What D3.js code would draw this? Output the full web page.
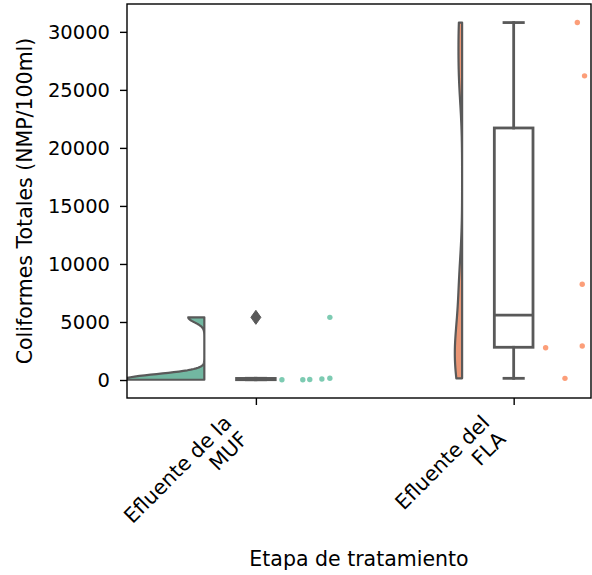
<!DOCTYPE html>
<html><head><meta charset="utf-8">
<script src="https://cdn.jsdelivr.net/npm/d3@7"></script>
<style>body{margin:0;background:#fff} text{font-family:"DejaVu Sans",sans-serif;fill:#000}</style>
</head><body><svg id="c" width="592" height="575"></svg>
<script>
// ---- data ----
const categories = [["Efluente de la", "MUF"], ["Efluente del", "FLA"]];
const mufValues = [23, 23, 43, 93, 150, 5400];
const flaValues = [145, 2784, 2931, 8250, 26207, 30800];
const mufJitter = [-0.099, -0.018, 0.009, 0.056, 0.087, 0.087];
const flaJitter = [-0.001, -0.076, 0.066, 0.066, 0.075, 0.047];
const yTicks = [0, 5000, 10000, 15000, 20000, 25000, 30000];
const palette = ["#66c2a5", "#fc8d62"];
const violinPalette = ["#72b7a1", "#e99675"];
const xLabel = "Etapa de tratamiento";
const yLabel = "Coliformes Totales (NMP/100ml)";

const groups = [
  {values: mufValues, jitter: mufJitter},
  {values: flaValues, jitter: flaJitter}
];

// ---- layout ----
const L = 127, R = 591, T = 4, B = 398;
const gray = "#595959";
const tickFont = 19.5, xTickFont = 20.5, labelFont = 20.5;
const svg = d3.select("#c");
const x = d3.scaleLinear().domain([-0.5, 1.3]).range([L, R]);
const y = d3.scaleLinear().domain([-1550, 32400]).range([B, T]);

svg.append("defs").append("clipPath").attr("id", "clip")
  .append("rect").attr("x", L).attr("y", T).attr("width", R - L).attr("height", B - T);
const plot = svg.append("g").attr("clip-path", "url(#clip)");

// KDE (gaussian, bw factor 0.2 * sample std), cut = 0
function kde(vals) {
  const sd = d3.deviation(vals);
  const bw = 0.2 * sd;
  const lo = d3.min(vals), hi = d3.max(vals);
  const n = 100;
  const pts = [];
  for (let i = 0; i < n; i++) {
    const v = lo + (hi - lo) * i / (n - 1);
    let s = 0;
    for (const d of vals) s += Math.exp(-0.5 * ((v - d) / bw) ** 2);
    pts.push([v, s / (vals.length * bw * Math.sqrt(2 * Math.PI))]);
  }
  return pts;
}
const dens = groups.map(g => kde(g.values));
const maxD = d3.max(dens, d => d3.max(d, p => p[1]));
const dwidth = 0.31;
const offset = 0.2;

groups.forEach((g, i) => {
  const base = i - offset;
  const pts = dens[i];
  const poly = pts.map(p => [x(base - p[1] / maxD * dwidth), y(p[0])]);
  const path = [[x(base), y(pts[0][0])], ...poly, [x(base), y(pts[pts.length - 1][0])]];
  plot.append("path")
    .attr("d", d3.line()(path) + "Z")
    .attr("fill", violinPalette[i])
    .attr("stroke", gray).attr("stroke-width", 2.2).attr("stroke-linejoin", "round");
});

// boxplots
const bw = 0.15;
groups.forEach((g, i) => {
  const s = g.values.slice().sort(d3.ascending);
  const q1 = d3.quantile(s, 0.25), med = d3.quantile(s, 0.5), q3 = d3.quantile(s, 0.75);
  const iqr = q3 - q1;
  const lowW = d3.min(s.filter(v => v >= q1 - 1.5 * iqr));
  const hiW = d3.max(s.filter(v => v <= q3 + 1.5 * iqr));
  const outs = s.filter(v => v < lowW || v > hiW);
  const gB = plot.append("g").attr("stroke", gray).attr("stroke-width", 2.8).attr("fill", "none");
  gB.append("line").attr("x1", x(i)).attr("x2", x(i)).attr("y1", y(q3)).attr("y2", y(hiW)).attr("stroke-linecap", "square");
  gB.append("line").attr("x1", x(i)).attr("x2", x(i)).attr("y1", y(q1)).attr("y2", y(lowW)).attr("stroke-linecap", "square");
  gB.append("line").attr("x1", x(i - bw / 4)).attr("x2", x(i + bw / 4)).attr("y1", y(hiW)).attr("y2", y(hiW)).attr("stroke-linecap", "square");
  gB.append("line").attr("x1", x(i - bw / 4)).attr("x2", x(i + bw / 4)).attr("y1", y(lowW)).attr("y2", y(lowW)).attr("stroke-linecap", "square");
  gB.append("rect").attr("x", x(i - bw / 2)).attr("width", x(i + bw / 2) - x(i - bw / 2))
    .attr("y", y(q3)).attr("height", Math.max(0.01, y(q1) - y(q3)));
  gB.append("line").attr("x1", x(i - bw / 2)).attr("x2", x(i + bw / 2)).attr("y1", y(med)).attr("y2", y(med));
  outs.forEach(v => {
    const cx = x(i), cy = y(v);
    plot.append("path").attr("d", `M${cx},${cy - 7}L${cx + 5},${cy}L${cx},${cy + 7}L${cx - 5},${cy}Z`)
      .attr("fill", gray).attr("stroke", gray).attr("stroke-width", 1);
  });
});

// strip (rain)
groups.forEach((g, i) => {
  plot.selectAll(null).data(g.values.map((v, k) => [v, g.jitter[k]])).enter().append("circle")
    .attr("cx", d => x(i + offset + d[1])).attr("cy", d => y(d[0])).attr("r", 2.7)
    .attr("fill", palette[i]).attr("fill-opacity", 0.85);
});

// axes
const yAxis = svg.append("g").attr("transform", `translate(${L},0)`)
  .call(d3.axisLeft(y).tickValues(yTicks).tickFormat(d3.format("d")).tickSize(7).tickPadding(10));
yAxis.select(".domain").remove();
yAxis.selectAll("line").attr("stroke", "#000").attr("stroke-width", 1.4);
yAxis.selectAll("text").attr("font-size", tickFont).attr("font-family", "DejaVu Sans").attr("fill", "#222");

const xAxis = svg.append("g").attr("transform", `translate(0,${B})`)
  .call(d3.axisBottom(x).tickValues([0, 1]).tickFormat("").tickSize(7));
xAxis.select(".domain").remove();
xAxis.selectAll("line").attr("stroke", "#000").attr("stroke-width", 1.4);

// rotated category labels
categories.forEach((lines, i) => {
  const tx = x(i) - 23, ty = 424;
  const t = svg.append("text").attr("transform", `translate(${tx},${ty}) rotate(-45)`)
    .attr("text-anchor", "end").attr("font-size", xTickFont).attr("fill", "#222");
  lines.forEach((ln, k) => t.append("tspan").attr("x", 0).attr("y", k * xTickFont * 1.12).text(ln));
});

// frame
svg.append("rect").attr("x", L).attr("y", T).attr("width", R - L).attr("height", B - T)
  .attr("fill", "none").attr("stroke", "#000").attr("stroke-width", 1.4);

// axis labels
svg.append("text").attr("x", (L + R) / 2).attr("y", 566).attr("text-anchor", "middle")
  .attr("font-size", labelFont).attr("fill", "#222").text(xLabel);
svg.append("text").attr("transform", `translate(32,${(T + B) / 2}) rotate(-90)`).attr("text-anchor", "middle")
  .attr("font-size", labelFont).attr("fill", "#222").text(yLabel);
</script></body></html>
